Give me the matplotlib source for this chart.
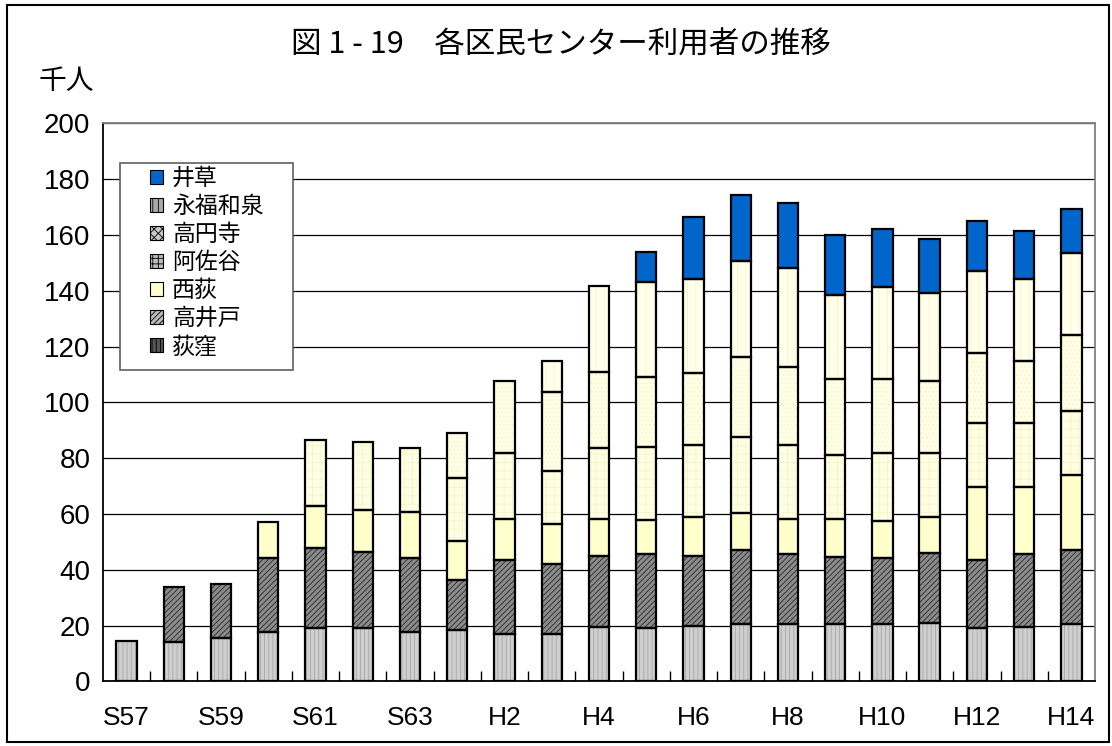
import numpy as np
import matplotlib
matplotlib.use("Agg")
import matplotlib.pyplot as plt
from matplotlib.patches import Patch, Rectangle

plt.rcParams['font.family'] = ['Liberation Sans', 'Noto Sans CJK JP', 'DejaVu Sans']
plt.rcParams['hatch.linewidth'] = 0.6

categories = ["S57", "S58", "S59", "S60", "S61", "S62", "S63", "H1", "H2", "H3", "H4",
              "H5", "H6", "H7", "H8", "H9", "H10", "H11", "H12", "H13", "H14"]
tick_labels = ["S57", "", "S59", "", "S61", "", "S63", "", "H2", "", "H4",
               "", "H6", "", "H8", "", "H10", "", "H12", "", "H14"]

nan = np.nan
ogikubo = [14.4, 14.1, 15.7, 17.8, 19.2, 19.1, 17.6, 18.3, 17.1, 17.0, 19.7,
           19.1, 19.8, 20.5, 20.5, 20.5, 20.5, 21.0, 19.1, 19.4, 20.5]
takaido = [nan, 19.7, 19.4, 26.5, 28.7, 27.4, 26.5, 18.1, 26.5, 25.1, 25.1,
           26.5, 25.3, 26.6, 25.2, 24.2, 23.7, 25.2, 24.4, 26.3, 26.6]
nishiogi = [nan, nan, nan, 12.9, 14.9, 15.0, 16.5, 14.1, 14.7, 14.2, 13.5,
            12.1, 13.8, 13.4, 12.7, 13.7, 13.4, 12.9, 26.3, 24.1, 26.9]
asagaya = [nan, nan, nan, nan, 23.7, 24.3, 23.0, 22.3, 23.7, 19.2, 25.3,
           26.5, 26.0, 27.2, 26.4, 22.8, 24.3, 22.8, 22.9, 22.9, 23.1]
koenji = [nan, nan, nan, nan, nan, nan, nan, 16.4, 25.8, 28.1, 27.2,
          25.1, 25.6, 28.7, 27.9, 27.2, 26.5, 25.8, 25.0, 22.2, 27.1]
eifuku = [nan, nan, nan, nan, nan, nan, nan, nan, nan, 11.3, 30.9,
          33.8, 33.6, 34.3, 35.6, 30.0, 32.9, 31.4, 29.4, 29.3, 29.4]
igusa = [nan, nan, nan, nan, nan, nan, nan, nan, nan, nan, nan,
         10.9, 22.3, 23.7, 23.1, 21.6, 20.8, 19.4, 17.8, 17.2, 15.6]

series_names = ["荻窪", "高井戸", "西荻", "阿佐谷", "高円寺", "永福和泉", "井草"]
series_values = [ogikubo, takaido, nishiogi, asagaya, koenji, eifuku, igusa]

# bar styles (face, hatch, hatch color)
bar_styles = [
    ("#CFCFCF", "||||", "#A8A8A8"),
    ("#8C8C8C", "//////", "#262626"),
    ("#FFFFCC", None, "#FFFFCC"),
    ("#FFFFE4", "++", "#F4F4C8"),
    ("#FFFFE6", "....", "#F2F2CC"),
    ("#FFFFEA", "||", "#F4F4D0"),
    ("#0066CC", None, "#0066CC"),
]
# legend styles
legend_styles = [
    ("#555555", "||||"),
    ("#BBBBBB", "//////"),
    ("#FFFFCC", None),
    ("#BBBBBB", "+++"),
    ("#C8C8C8", "xxxx"),
    ("#AAAAAA", "|||"),
    ("#0066CC", None),
]

fig = plt.figure(figsize=(11.12, 7.46), dpi=100)
ax = fig.add_axes([0.0926, 0.0865, 0.8921, 0.748])

x = np.arange(len(categories))
width = 0.43
bottom = np.zeros(len(categories))
for name, vals, (fc, hatch, hc) in zip(series_names, series_values, bar_styles):
    v = np.array(vals, dtype=float)
    ax.bar(x, v, width, bottom=bottom, color=fc, edgecolor=hc, hatch=hatch,
           linewidth=0, zorder=3)
    ax.bar(x, v, width, bottom=bottom, facecolor='none', edgecolor='black',
           linewidth=1.6, zorder=4)
    bottom = bottom + np.nan_to_num(v)

ax.set_xlim(-0.5, len(categories) - 0.5)
ax.set_ylim(0, 200)
ax.set_yticks(np.arange(0, 201, 20))
ax.set_yticklabels([str(t) for t in range(0, 201, 20)], fontsize=20)
ax.set_xticks(x)
ax.set_xticklabels(tick_labels, fontsize=19)
ax.tick_params(axis='x', which='major', length=0, pad=18)
ax.tick_params(axis='y', which='major', length=0, pad=9)
ax.set_xticks(np.arange(0.5, len(categories) - 0.5, 1), minor=True)
ax.tick_params(axis='x', which='minor', direction='in', length=7, width=1, color='black')
ax.grid(axis='y', color='black', linewidth=0.9, zorder=1)
ax.set_axisbelow(True)
for s in ['left', 'bottom']:
    ax.spines[s].set_color('black')
    ax.spines[s].set_linewidth(1.3)
for s in ['top', 'right']:
    ax.spines[s].set_color('#808080')
    ax.spines[s].set_linewidth(1.3)

# legend frame
ax.add_patch(Rectangle((0.0171, 0.558), 0.1744, 0.371, transform=ax.transAxes,
                       facecolor='white', edgecolor='#606060', linewidth=1.2,
                       zorder=5))
handles = [Patch(facecolor=fc, edgecolor='black', hatch=h, linewidth=0.8)
           for fc, h in legend_styles]
leg = ax.legend(handles[::-1], series_names[::-1], loc='upper left',
                bbox_to_anchor=(0.047, 0.922), fontsize=16.5, frameon=False,
                handlelength=0.58, handleheight=0.58, handletextpad=0.4,
                labelspacing=0.22, borderpad=0, borderaxespad=0)
leg.set_zorder(6)

fig.text(0.504, 0.94, "図 1 - 19　各区民センター利用者の推移", ha='center', va='center',
         fontsize=22, family=['Noto Sans CJK JP', 'DejaVu Sans'])
fig.text(0.06, 0.891, "千人", ha='center', va='center', fontsize=20,
         family=['Noto Sans CJK JP', 'DejaVu Sans'])

fig.patches.append(Rectangle((7 / 1112, 1 - 742 / 746), 1102 / 1112, 737 / 746,
                             transform=fig.transFigure, fill=False,
                             edgecolor='black', linewidth=1.5))

fig.savefig("out.png", dpi=100)
